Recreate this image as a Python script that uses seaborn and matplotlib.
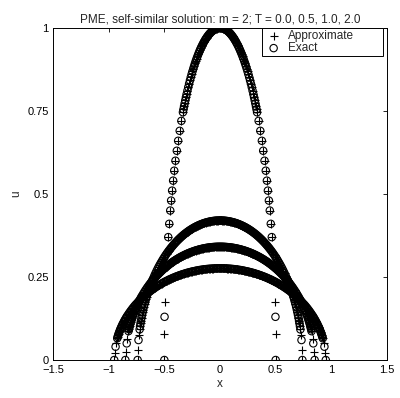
import numpy as np
import pandas as pd
import matplotlib
matplotlib.use("Agg")
import matplotlib.pyplot as plt
import seaborn as sns

# Values (half profiles, x >= 0; the
# solution is symmetric so the left half is the mirror image)
x_t0 = [0.0, 0.015, 0.03, 0.045, 0.06, 0.075, 0.09, 0.105, 0.12, 0.135, 0.15,
        0.165, 0.18, 0.195, 0.21, 0.225, 0.24, 0.255, 0.27, 0.285, 0.30,
        0.312, 0.323, 0.333, 0.347, 0.362, 0.376, 0.388, 0.40, 0.411, 0.421,
        0.43, 0.439, 0.447, 0.456, 0.465]
u_t0 = [1.0, 0.9996, 0.998, 0.996, 0.9928, 0.9887, 0.9837, 0.9777, 0.9708,
        0.9629, 0.9539, 0.944, 0.933, 0.9208, 0.9075, 0.893, 0.8773, 0.8602,
        0.8417, 0.8216, 0.80, 0.7814, 0.7634, 0.7459, 0.72, 0.69, 0.66, 0.63,
        0.60, 0.57, 0.54, 0.51, 0.48, 0.45, 0.41, 0.37]
x_t0_mid = [0.0075, 0.0225, 0.0375, 0.0525, 0.0675, 0.0825, 0.0975, 0.1125,
            0.1275, 0.1425, 0.1575, 0.1725, 0.1875, 0.2025, 0.2175, 0.2325,
            0.2475, 0.2625, 0.2775, 0.2925, 0.306, 0.3175, 0.328]
u_t0_mid = [0.9999, 0.9990, 0.9972, 0.9945, 0.9909, 0.9863, 0.9808, 0.9744,
            0.9669, 0.9585, 0.9491, 0.9386, 0.9270, 0.9143, 0.9004, 0.8853,
            0.8689, 0.8511, 0.8319, 0.8110, 0.7909, 0.7725, 0.7548]

x_t05 = [0.0, 0.02, 0.04, 0.06, 0.08, 0.10, 0.12, 0.14, 0.16, 0.18, 0.20,
         0.22, 0.24, 0.26, 0.28, 0.30, 0.32, 0.34, 0.36, 0.38, 0.40, 0.42,
         0.44, 0.46, 0.48, 0.50, 0.52, 0.54, 0.56, 0.58, 0.60, 0.615, 0.63,
         0.645, 0.66, 0.672, 0.684, 0.695, 0.705, 0.714, 0.722]
u_t05 = [0.420, 0.4198, 0.4194, 0.4186, 0.4175, 0.4161, 0.4144, 0.4124,
         0.4101, 0.4074, 0.4044, 0.4010, 0.3973, 0.3932, 0.3888, 0.3839,
         0.3787, 0.3730, 0.3669, 0.3604, 0.3534, 0.3458, 0.3377, 0.3290,
         0.3197, 0.3096, 0.2988, 0.2872, 0.2746, 0.2608, 0.2458, 0.2336,
         0.2203, 0.2059, 0.1899, 0.1759, 0.1603, 0.1442, 0.1276, 0.1103,
         0.0921]
x_t05_mid = [0.01, 0.03, 0.05, 0.07, 0.09, 0.11, 0.13, 0.15, 0.17, 0.19, 0.21,
             0.23, 0.25, 0.27, 0.29, 0.31, 0.33, 0.35, 0.37, 0.39, 0.41, 0.43,
             0.45, 0.47, 0.49, 0.51, 0.53, 0.55, 0.57, 0.59, 0.608, 0.6225,
             0.6375, 0.653, 0.666, 0.678, 0.69, 0.70, 0.71, 0.718]
u_t05_mid = [0.4200, 0.4197, 0.4190, 0.4181, 0.4169, 0.4153, 0.4135, 0.4113,
             0.4088, 0.4059, 0.4027, 0.3992, 0.3953, 0.3910, 0.3864, 0.3814,
             0.3759, 0.3701, 0.3637, 0.3569, 0.3496, 0.3418, 0.3334, 0.3244,
             0.3147, 0.3043, 0.2931, 0.2810, 0.2678, 0.2535, 0.2398, 0.2271,
             0.2133, 0.1976, 0.1831, 0.1683, 0.1518, 0.1362, 0.1184, 0.1017]

x_t1 = [0.0, 0.02, 0.04, 0.06, 0.08, 0.10, 0.12, 0.14, 0.16, 0.18, 0.20,
        0.22, 0.24, 0.26, 0.28, 0.30, 0.32, 0.34, 0.36, 0.38, 0.40, 0.42,
        0.44, 0.46, 0.48, 0.50, 0.52, 0.54, 0.56, 0.58, 0.60, 0.62, 0.64,
        0.66, 0.68, 0.70, 0.715, 0.73, 0.745, 0.76, 0.772, 0.784, 0.795,
        0.805, 0.814, 0.822]
u_t1 = [0.341, 0.3409, 0.3406, 0.3401, 0.3395, 0.3386, 0.3376, 0.3363,
        0.3349, 0.3333, 0.3314, 0.3294, 0.3271, 0.3247, 0.3220, 0.3191,
        0.3159, 0.3125, 0.3089, 0.3050, 0.3009, 0.2965, 0.2918, 0.2868,
        0.2814, 0.2758, 0.2697, 0.2633, 0.2565, 0.2493, 0.2415, 0.2333,
        0.2244, 0.2149, 0.2046, 0.1934, 0.1844, 0.1747, 0.1642, 0.1527,
        0.1427, 0.1317, 0.1207, 0.1095, 0.0982, 0.0868]
x_t1_mid = [0.01, 0.03, 0.05, 0.07, 0.09, 0.11, 0.13, 0.15, 0.17, 0.19, 0.21,
            0.23, 0.25, 0.27, 0.29, 0.31, 0.33, 0.35, 0.37, 0.39, 0.41, 0.43,
            0.45, 0.47, 0.49, 0.51, 0.53, 0.55, 0.57, 0.59, 0.61, 0.63, 0.65,
            0.67, 0.69, 0.7075, 0.7225, 0.7375, 0.753, 0.766, 0.778, 0.79,
            0.80, 0.81, 0.818]
u_t1_mid = [0.3410, 0.3408, 0.3404, 0.3398, 0.3391, 0.3381, 0.3370, 0.3356,
            0.3341, 0.3324, 0.3304, 0.3283, 0.3259, 0.3233, 0.3205, 0.3175,
            0.3143, 0.3108, 0.3070, 0.3030, 0.2987, 0.2941, 0.2893, 0.2841,
            0.2786, 0.2728, 0.2666, 0.2600, 0.2530, 0.2455, 0.2375, 0.2289,
            0.2197, 0.2098, 0.1991, 0.1890, 0.1796, 0.1695, 0.1582, 0.1478,
            0.1374, 0.1258, 0.1152, 0.1034, 0.0927]

x_t2 = [0.0, 0.025, 0.05, 0.075, 0.10, 0.125, 0.15, 0.175, 0.20, 0.225,
        0.25, 0.275, 0.30, 0.325, 0.35, 0.375, 0.40, 0.425, 0.45, 0.475,
        0.50, 0.525, 0.55, 0.575, 0.60, 0.625, 0.65, 0.675, 0.70, 0.725,
        0.75, 0.77, 0.79, 0.81, 0.83, 0.845, 0.86, 0.873, 0.885, 0.896,
        0.906, 0.915, 0.923]
u_t2 = [0.276, 0.2759, 0.2756, 0.2751, 0.2745, 0.2736, 0.2725, 0.2713,
        0.2698, 0.2681, 0.2663, 0.2642, 0.2619, 0.2593, 0.2566, 0.2536,
        0.2503, 0.2468, 0.2431, 0.2390, 0.2347, 0.2300, 0.2250, 0.2197,
        0.2140, 0.2079, 0.2013, 0.1942, 0.1866, 0.1784, 0.1694, 0.1617,
        0.1533, 0.1442, 0.1343, 0.1261, 0.1173, 0.1088, 0.1003, 0.0917,
        0.0830, 0.0742, 0.0653]
x_t2_mid = [0.0125, 0.0375, 0.0625, 0.0875, 0.1125, 0.1375, 0.1625, 0.1875,
            0.2125, 0.2375, 0.2625, 0.2875, 0.3125, 0.3375, 0.3625, 0.3875,
            0.4125, 0.4375, 0.4625, 0.4875, 0.5125, 0.5375, 0.5625, 0.5875,
            0.6125, 0.6375, 0.6625, 0.6875, 0.7125, 0.7375, 0.76, 0.78, 0.80,
            0.82, 0.8375, 0.8525, 0.8665, 0.879, 0.8905, 0.901, 0.9105, 0.919]
u_t2_mid = [0.2760, 0.2758, 0.2754, 0.2748, 0.2741, 0.2731, 0.2719, 0.2706,
            0.2690, 0.2672, 0.2653, 0.2631, 0.2606, 0.2580, 0.2551, 0.2520,
            0.2486, 0.2450, 0.2411, 0.2369, 0.2324, 0.2276, 0.2224, 0.2169,
            0.2110, 0.2046, 0.1978, 0.1905, 0.1826, 0.1740, 0.1656, 0.1576,
            0.1489, 0.1394, 0.1303, 0.1218, 0.1131, 0.1047, 0.0961, 0.0875,
            0.0788, 0.0699]

# nodes next to the free boundary, where the two solutions part
edge_x_exact = [[0.498, 0.50], [0.732, 0.74], [0.838, 0.85], [0.938, 0.95]]
edge_u_exact = [[0.13, 0.0], [0.06, 0.0], [0.05, 0.0], [0.04, 0.0]]
edge_x_approx = [[0.497, 0.499, 0.50], [0.731, 0.734, 0.74],
                 [0.837, 0.84, 0.85], [0.937, 0.941, 0.95]]
edge_u_approx = [[0.176, 0.077, 0.0], [0.075, 0.03, 0.0],
                 [0.063, 0.025, 0.0], [0.052, 0.022, 0.0]]

x_ticks = [-1.5, -1, -0.5, 0, 0.5, 1, 1.5]
x_ticklabels = ["\u22121.5", "\u22121", "\u22120.5", "0", "0.5", "1", "1.5"]
y_ticks = [0, 0.25, 0.5, 0.75, 1]
y_ticklabels = ["0", "0.25", "0.5", "0.75", "1"]


def mirror(x, u):
    x = np.asarray(x, dtype=float)
    u = np.asarray(u, dtype=float)
    pos = x > 0
    return np.concatenate([-x[pos], x]), np.concatenate([u[pos], u])


bodies = [(x_t0 + x_t0_mid, u_t0 + u_t0_mid),
          (x_t05 + x_t05_mid, u_t05 + u_t05_mid),
          (x_t1 + x_t1_mid, u_t1 + u_t1_mid),
          (x_t2 + x_t2_mid, u_t2 + u_t2_mid)]
rows = []
for i, (xb, ub) in enumerate(bodies):
    xs, us = mirror(xb + edge_x_exact[i], ub + edge_u_exact[i])
    rows.append(pd.DataFrame({"x": xs, "u": us, "kind": "Exact"}))
    xs, us = mirror(xb + edge_x_approx[i], ub + edge_u_approx[i])
    rows.append(pd.DataFrame({"x": xs, "u": us, "kind": "Approximate"}))
df = pd.concat(rows, ignore_index=True)

sns.set_style("white")
plt.rcParams["font.family"] = ["Liberation Sans", "DejaVu Sans"]

fig = plt.figure(figsize=(4.0, 3.98), dpi=100)
ax = fig.add_axes([0.1325, 0.0955, 0.835, 0.8345])

sns.scatterplot(data=df[df.kind == "Approximate"], x="x", y="u", marker="+",
                color="black", s=30, linewidth=0.8, label="Approximate", ax=ax)
sns.scatterplot(data=df[df.kind == "Exact"], x="x", y="u", marker="o",
                facecolors="none", edgecolor="black", s=28, linewidth=0.8,
                label="Exact", ax=ax)

ax.set_xlim(-1.5, 1.5)
ax.set_ylim(0, 1)
ax.set_xticks(x_ticks)
ax.set_xticklabels(x_ticklabels)
ax.set_yticks(y_ticks)
ax.set_yticklabels(y_ticklabels)
ax.tick_params(direction="in", length=3, width=0.6, labelsize=8,
               top=True, right=True, colors="black")
ax.tick_params(axis="x", pad=3.5)
ax.tick_params(axis="y", pad=3)
for sp in ax.spines.values():
    sp.set_color("black")
    sp.set_linewidth(0.7)

ax.set_xlabel("x", fontsize=8.5, labelpad=2)
ax.set_ylabel("u", fontsize=8.5, labelpad=4)
ax.set_title("PME, self-similar solution: m = 2; T = 0.0, 0.5, 1.0, 2.0",
             fontsize=8.5, pad=4)

leg = ax.legend(loc="upper right", bbox_to_anchor=(0.627, 0.925, 0.361, 0.075),
                mode="expand", fontsize=8.5, frameon=True, fancybox=False,
                edgecolor="black", framealpha=1, borderaxespad=0,
                handlelength=1.6, handletextpad=0.4, labelspacing=0.05,
                borderpad=0.15)
leg.get_frame().set_linewidth(0.7)

fig.savefig("out.png", dpi=100)
